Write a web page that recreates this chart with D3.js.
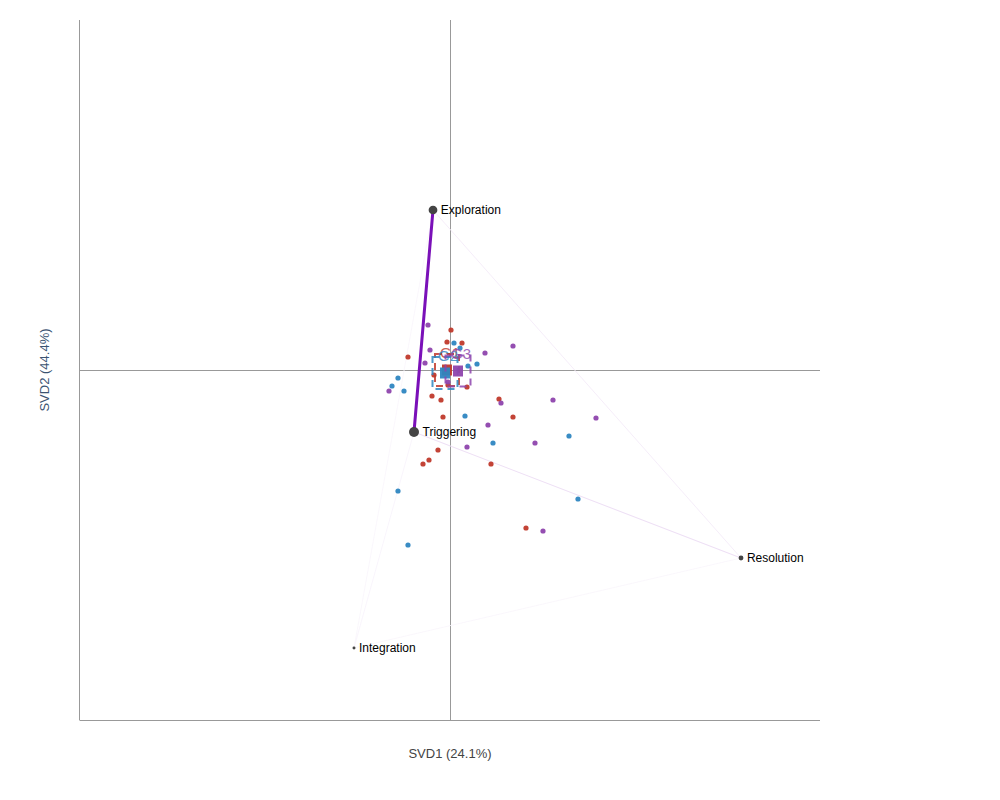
<!DOCTYPE html>
<html>
<head>
<meta charset="utf-8">
<script src="https://cdn.jsdelivr.net/npm/d3@7"></script>
<style>
  body { margin: 0; background: #fff; }
  text { font-family: Arial, "Liberation Sans", sans-serif; }
</style>
</head>
<body>
<div id="chart"></div>
<script>
// state nodes (SVD coordinates) and how often each one occurs
var stateNames = ["Exploration", "Triggering", "Resolution", "Integration"];
var stateX = [-0.17, -0.36, 2.91, -0.96];
var stateY = [1.60, -0.62, -1.88, -2.78];
var stateFreq = [0.26, 0.34, 0.08, 0.03];

// transitions between states
var edgeFrom = ["Exploration", "Triggering", "Exploration", "Triggering", "Exploration", "Integration"];
var edgeTo = ["Triggering", "Resolution", "Resolution", "Integration", "Integration", "Resolution"];
var edgeWeight = [1.0, 0.11, 0.06, 0.03, 0.02, 0.02];

// group names
var groupNames = ["G1", "G2", "G3"];

// individual cases per group [svd1, svd2]
var g1Points = [
  [0.01, 0.40], [-0.03, 0.28], [0.12, 0.27], [-0.42, 0.13], [-0.16, -0.05],
  [-0.02, -0.15], [0.17, -0.17], [-0.18, -0.26], [-0.09, -0.30], [0.49, -0.29],
  [-0.07, -0.47], [0.63, -0.47], [-0.12, -0.80], [-0.21, -0.90], [-0.27, -0.94],
  [0.41, -0.94], [0.76, -1.58]
];
var g2Points = [
  [0.04, 0.27], [0.10, 0.22], [0.18, 0.04], [0.27, 0.06], [-0.52, -0.08],
  [-0.58, -0.16], [-0.46, -0.21], [0.15, -0.46], [1.19, -0.66], [0.43, -0.73],
  [-0.52, -1.21], [1.28, -1.29], [-0.42, -1.75]
];
var g3Points = [
  [-0.22, 0.45], [-0.20, 0.20], [0.35, 0.17], [0.63, 0.24], [-0.25, 0.07],
  [-0.61, -0.21], [-0.02, -0.12], [0.51, -0.33], [1.03, -0.30], [1.46, -0.48],
  [0.38, -0.55], [0.85, -0.73], [0.17, -0.77], [0.93, -1.61]
];

// group centroids and their spread (half width / half height)
var centroidX = [-0.03, -0.05, 0.08];
var centroidY = [0.00, -0.03, -0.01];
var spreadX = [0.12, 0.125, 0.125];
var spreadY = [0.16, 0.16, 0.155];

var axisLabelX = "SVD1 (24.1%)";
var axisLabelY = "SVD2 (44.4%)";

var w = 1000, h = 800;
var padLeft = 80, padRight = 820, padTop = 20, padBottom = 720;

var xScale = d3.scaleLinear().domain([-3.7, 3.7]).range([padLeft, padRight]);
var yScale = d3.scaleLinear().domain([-3.5, 3.5]).range([padBottom, padTop]);

var groupColor = d3.scaleOrdinal()
  .domain(groupNames)
  .range(["#c0392b", "#2e86c1", "#8e44ad"]);

var nodeRadius = d3.scaleSqrt().domain([0, 0.34]).range([0, 5]);
var edgeColor = d3.scaleLinear().domain([0, 1]).range(["#fcfafd", "#7a10b8"]);
var edgeWidth = d3.scaleLinear().domain([0, 1]).range([0.8, 3]);

var svg = d3.select("#chart").append("svg")
  .attr("width", w)
  .attr("height", h);

// frame axes (left and bottom)
svg.append("line")
  .attr("x1", padLeft - 0.5).attr("x2", padLeft - 0.5)
  .attr("y1", padTop).attr("y2", padBottom)
  .attr("stroke", "#999");
svg.append("line")
  .attr("x1", padLeft - 0.5).attr("x2", padRight)
  .attr("y1", padBottom + 0.5).attr("y2", padBottom + 0.5)
  .attr("stroke", "#999");

// zero lines
svg.append("line")
  .attr("x1", Math.round(xScale(0)) + 0.5).attr("x2", Math.round(xScale(0)) + 0.5)
  .attr("y1", padTop).attr("y2", padBottom)
  .attr("stroke", "#999");
svg.append("line")
  .attr("x1", padLeft).attr("x2", padRight)
  .attr("y1", Math.round(yScale(0)) + 0.5).attr("y2", Math.round(yScale(0)) + 0.5)
  .attr("stroke", "#999");

// axis titles
svg.append("text")
  .attr("x", xScale(0))
  .attr("y", 758)
  .attr("text-anchor", "middle")
  .attr("font-size", 13)
  .attr("fill", "#444")
  .text(axisLabelX);
svg.append("text")
  .attr("transform", "translate(49," + yScale(0) + ") rotate(-90)")
  .attr("text-anchor", "middle")
  .attr("font-size", 13)
  .attr("fill", "#3b5472")
  .text(axisLabelY);

// transition edges, lightest first
var states = stateNames.map(function (n, i) {
  return { name: n, x: stateX[i], y: stateY[i], freq: stateFreq[i] };
});
var stateByName = {};
states.forEach(function (s) { stateByName[s.name] = s; });

var edges = edgeFrom.map(function (f, i) {
  return { from: stateByName[f], to: stateByName[edgeTo[i]], weight: edgeWeight[i] };
}).sort(function (a, b) { return a.weight - b.weight; });

svg.append("g").selectAll("line")
  .data(edges)
  .enter().append("line")
  .attr("x1", d => xScale(d.from.x))
  .attr("y1", d => yScale(d.from.y))
  .attr("x2", d => xScale(d.to.x))
  .attr("y2", d => yScale(d.to.y))
  .attr("stroke", d => edgeColor(d.weight))
  .attr("stroke-width", d => edgeWidth(d.weight))
  .attr("stroke-linecap", "round");

// case points
var allPoints = [];
[g1Points, g2Points, g3Points].forEach(function (pts, gi) {
  pts.forEach(function (p) {
    allPoints.push({ group: groupNames[gi], x: p[0], y: p[1] });
  });
});

svg.append("g").selectAll("circle")
  .data(allPoints)
  .enter().append("circle")
  .attr("cx", d => xScale(d.x))
  .attr("cy", d => yScale(d.y))
  .attr("r", 2.6)
  .attr("fill", d => groupColor(d.group))
  .attr("opacity", 0.95);

// group centroids with dashed spread boxes
var centroids = groupNames.map(function (g, i) {
  return { group: g, x: centroidX[i], y: centroidY[i], sx: spreadX[i], sy: spreadY[i] };
});

var cg = svg.append("g").selectAll("g")
  .data(centroids)
  .enter().append("g");

cg.append("rect")
  .attr("x", d => xScale(d.x - d.sx))
  .attr("y", d => yScale(d.y + d.sy))
  .attr("width", d => xScale(d.x + d.sx) - xScale(d.x - d.sx))
  .attr("height", d => yScale(d.y - d.sy) - yScale(d.y + d.sy))
  .attr("fill", "none")
  .attr("stroke", d => groupColor(d.group))
  .attr("stroke-width", 2)
  .attr("stroke-dasharray", "7,5")
  .attr("opacity", 0.85);

cg.append("rect")
  .attr("x", d => xScale(d.x) - 5)
  .attr("y", d => yScale(d.y) - 5.5)
  .attr("width", 10)
  .attr("height", 11)
  .attr("fill", d => groupColor(d.group))
  .attr("opacity", 0.95);

cg.append("text")
  .attr("x", d => xScale(d.x) + 3)
  .attr("y", d => yScale(d.y) - 12)
  .attr("text-anchor", "middle")
  .attr("font-size", 15)
  .attr("fill", d => groupColor(d.group))
  .attr("opacity", 0.8)
  .text(d => d.group);

// state nodes
var ng = svg.append("g").selectAll("g")
  .data(states)
  .enter().append("g")
  .attr("transform", d => "translate(" + xScale(d.x) + "," + yScale(d.y) + ")");

ng.append("circle")
  .attr("r", d => nodeRadius(d.freq))
  .attr("fill", "#444");

ng.append("text")
  .attr("x", d => nodeRadius(d.freq) + 3.5)
  .attr("dy", "0.35em")
  .attr("font-size", 12)
  .attr("fill", "#000")
  .text(d => d.name);
</script>
</body>
</html>
